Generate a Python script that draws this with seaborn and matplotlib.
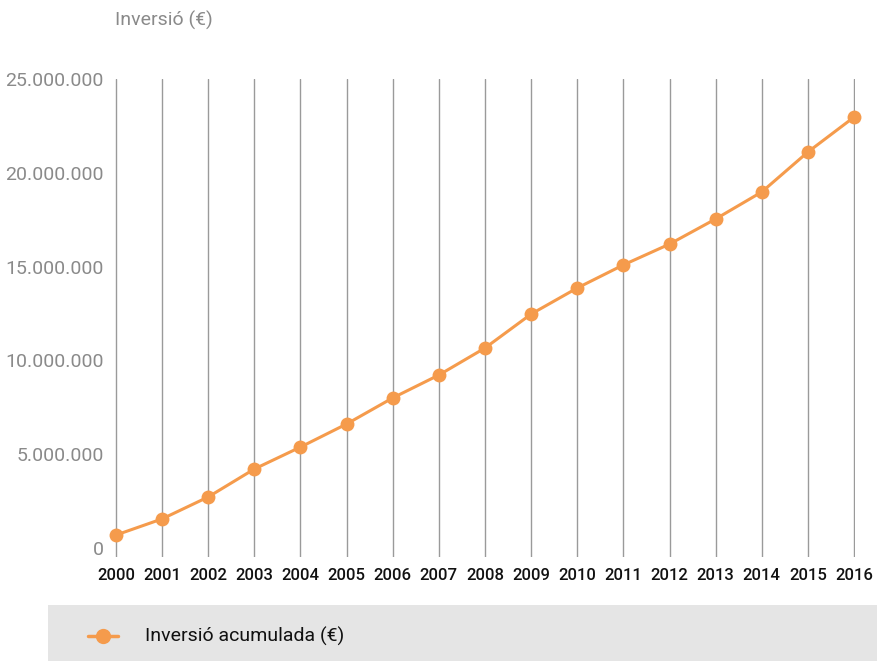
"""Cumulative investment line chart."""

import matplotlib.pyplot as plt
import matplotlib.patches as mpatches
import matplotlib.ticker as mticker
import pandas as pd
import seaborn as sns

years = list(range(2000, 2017))
investment = [
    690_000, 1_550_000, 2_720_000, 4_210_000, 5_380_000, 6_610_000,
    8_000_000, 9_220_000, 10_660_000, 12_470_000, 13_860_000, 15_090_000,
    16_200_000, 17_540_000, 18_980_000, 21_110_000, 22_970_000,
]
series_label = "Inversió acumulada (€)"
y_title = "Inversió (€)"
y_ticks = [0, 5_000_000, 10_000_000, 15_000_000, 20_000_000, 25_000_000]

ORANGE = "#f59b4c"
GREY_TEXT = "#8a8a8a"

sns.set_theme(style="white")
plt.rcParams["font.family"] = ["Roboto", "DejaVu Sans"]

df = pd.DataFrame({"year": years, "value": investment})

fig = plt.figure(figsize=(8.78, 6.61), dpi=100)
ax = fig.add_axes([115 / 878, 104 / 661, (855 - 115) / 878, (557 - 79) / 661])

sns.lineplot(
    data=df, x="year", y="value", ax=ax, color=ORANGE, linewidth=2.2,
    marker="o", markersize=10, markeredgewidth=0, clip_on=False, zorder=3,
)

ax.set_xlim(1999.98, 2016.02)
ax.set_ylim(-480_000, 25_000_000)
ax.set_xticks(years)
ax.set_xticklabels([str(y) for y in years], fontsize=12, color="#111111",
                   fontweight="medium")
ax.set_yticks(y_ticks)
ax.yaxis.set_major_formatter(
    mticker.FuncFormatter(lambda v, _: f"{int(v):,}".replace(",", "."))
)
for lbl in ax.get_yticklabels():
    lbl.set_fontsize(14)
    lbl.set_color(GREY_TEXT)
ax.tick_params(axis="y", pad=8, length=0)
ax.tick_params(axis="x", pad=8, length=0)
ax.set_xlabel("")
ax.set_ylabel("")

ax.grid(axis="x", color="#9a9a9a", linewidth=1)
ax.grid(axis="y", visible=False)
for spine in ax.spines.values():
    spine.set_visible(False)

fig.text(115 / 878, 1 - 20 / 661, y_title, fontsize=14, color=GREY_TEXT,
         va="center", ha="left")

# legend band
fig.patches.append(mpatches.Rectangle(
    (48 / 878, 0), (878 - 48) / 878, 56 / 661, transform=fig.transFigure,
    facecolor="#e5e5e5", edgecolor="none", zorder=0,
))
fig.lines.append(plt.Line2D(
    [88 / 878, 118 / 878], [1 - 636 / 661] * 2, transform=fig.transFigure,
    color=ORANGE, linewidth=2.5,
))
fig.lines.append(plt.Line2D(
    [103 / 878], [1 - 636 / 661], transform=fig.transFigure,
    color=ORANGE, marker="o", markersize=11, markeredgewidth=0,
))
fig.text(145 / 878, 1 - 636 / 661, series_label, fontsize=14, color="#111111",
         va="center", ha="left")

fig.savefig("out.png", dpi=100)
